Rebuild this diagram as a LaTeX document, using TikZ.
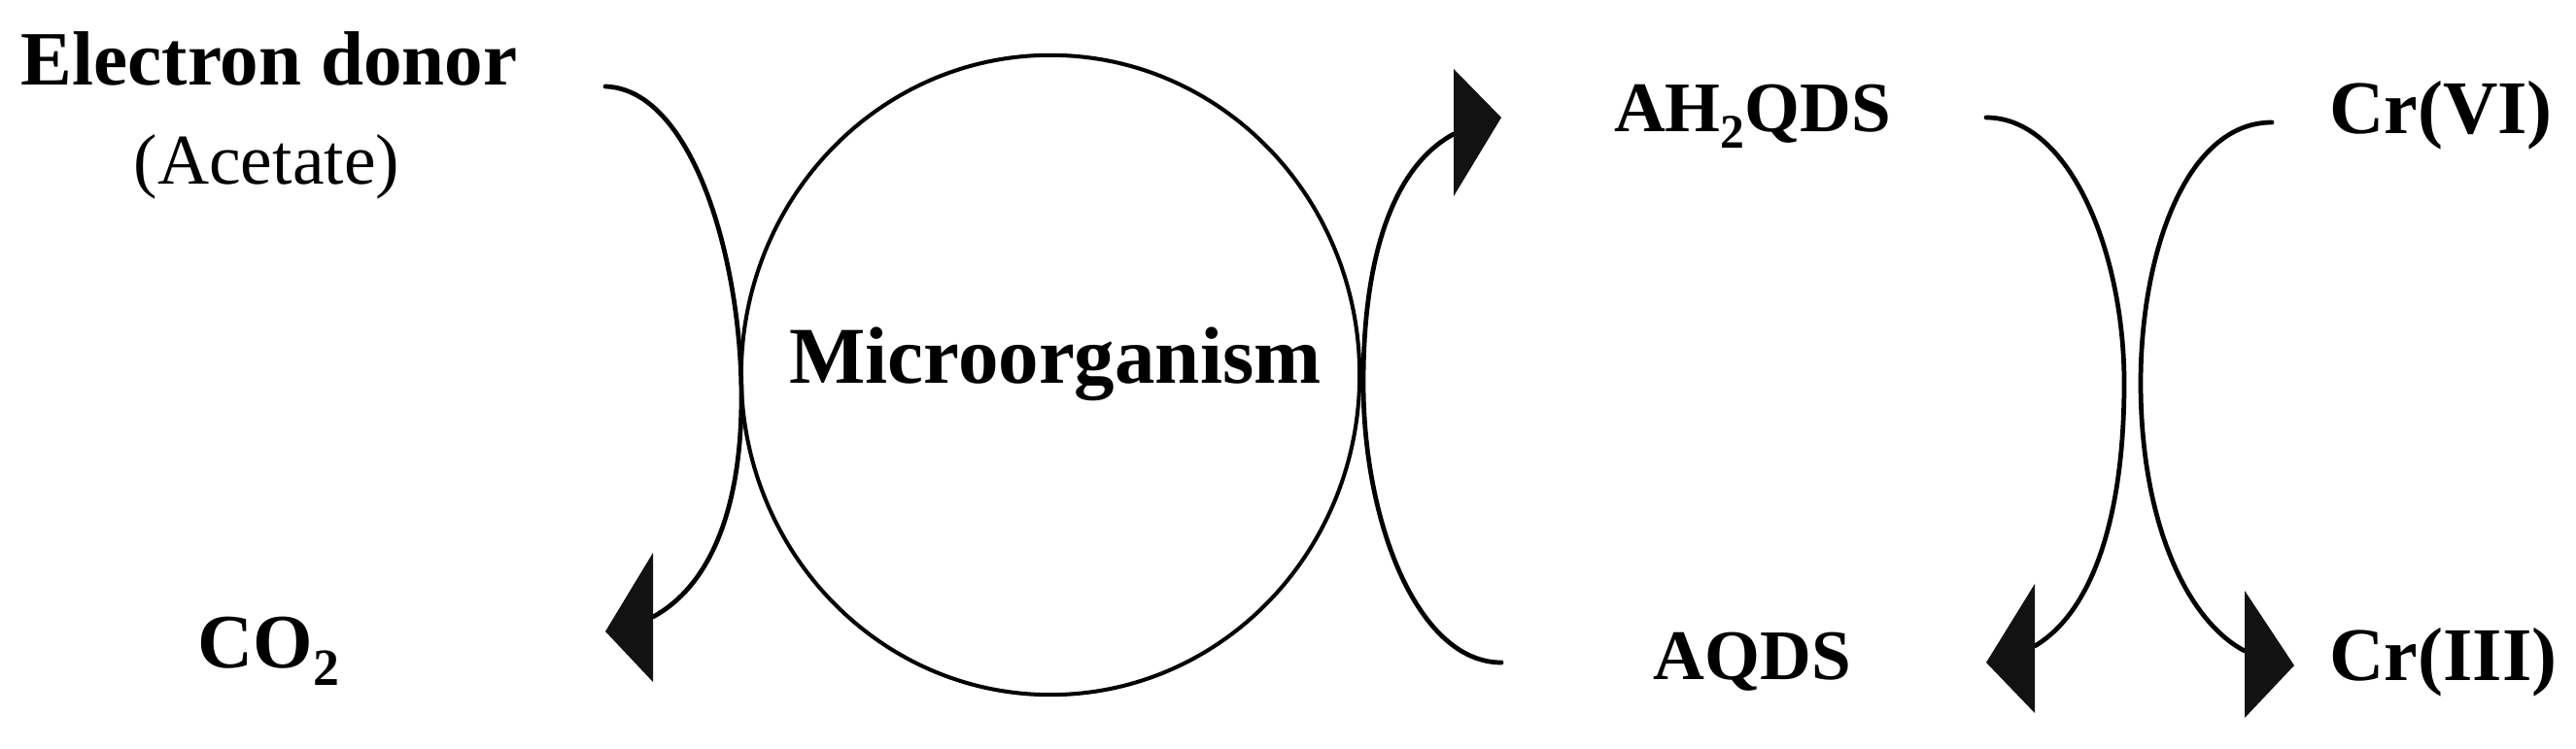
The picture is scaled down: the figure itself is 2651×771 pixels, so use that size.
\documentclass[tikz,border=0pt]{standalone}
\usepackage{fontspec}
\usepackage{graphicx}
\setmainfont{Liberation Serif}
\usetikzlibrary{shapes.geometric}
\newcommand{\lowsub}[1]{\raisebox{-0.22em}{\scalebox{0.68}{#1}}}
\begin{document}
\begin{tikzpicture}[x=0.01cm,y=-0.01cm,
  lab/.style={anchor=base,inner sep=0pt,font=\bfseries\fontsize{#1}{#1}\selectfont},
  sublab/.style={anchor=base,inner sep=0pt,font=\fontsize{#1}{#1}\selectfont},
  flow/.style={line width=1.35pt,line cap=round},
  headfill/.style={fill=black!93}]
\useasboundingbox (0,0) rectangle (2651,771);

% labels
\node[lab=22.5] (donor) at (277,88) {Electron donor};
\node[sublab=20.9] (acetate) at (274.5,190) {(Acetate)};
\node[lab=22.5] (co2) at (276.5,688) {CO\lowsub{2}};
\node[lab=20.8] (ah2qds) at (1803.5,136) {AH\lowsub{2}QDS};
\node[lab=20.8] (aqds) at (1803.5,700) {AQDS};
\node[lab=22.2] (cr6) at (2512,138) {Cr(VI)};
\node[lab=22.2] (cr3) at (2514.5,701) {Cr(III)};

% microorganism
\node[draw,ellipse,line width=1.15pt,minimum width=6.36cm,minimum height=6.58cm,inner sep=0pt] (micro) at (1081,386) {};
\node[lab=23.6] (microlabel) at (1086,395) {Microorganism};

% arrow endpoints
\coordinate (a1s) at (623,89);
\coordinate (a1e) at (672,635);
\coordinate (a2s) at (1545,682);
\coordinate (a2e) at (1496,138);
\coordinate (a3s) at (2044,121);
\coordinate (a3e) at (2094,665);
\coordinate (a4s) at (2338,126);
\coordinate (a4e) at (2310,670);

% left arrow: electron donor -> CO2
\draw[flow] (a1s) .. controls (712,92) and (763,265) .. (763,409)
  .. controls (763,540) and (722,608) .. (a1e);
\fill[headfill] (672,569) -- (672,702) -- (623,650) -- cycle;

% middle arrow: AQDS -> AH2QDS
\draw[flow] (a2s) .. controls (1460,682) and (1403,540) .. (1403,394)
  .. controls (1403,250) and (1440,168) .. (a2e);
\fill[headfill] (1496,71) -- (1496,202) -- (1545,121) -- cycle;

% AH2QDS -> AQDS
\draw[flow] (a3s) .. controls (2130,121) and (2186,260) .. (2186,394)
  .. controls (2186,540) and (2150,632) .. (a3e);
\fill[headfill] (2094,601) -- (2094,734) -- (2044,682) -- cycle;

% Cr(VI) -> Cr(III)
\draw[flow] (a4s) .. controls (2250,126) and (2203,260) .. (2203,394)
  .. controls (2203,540) and (2252,640) .. (a4e);
\fill[headfill] (2310,608) -- (2310,739) -- (2361,685) -- cycle;
\end{tikzpicture}
\end{document}
